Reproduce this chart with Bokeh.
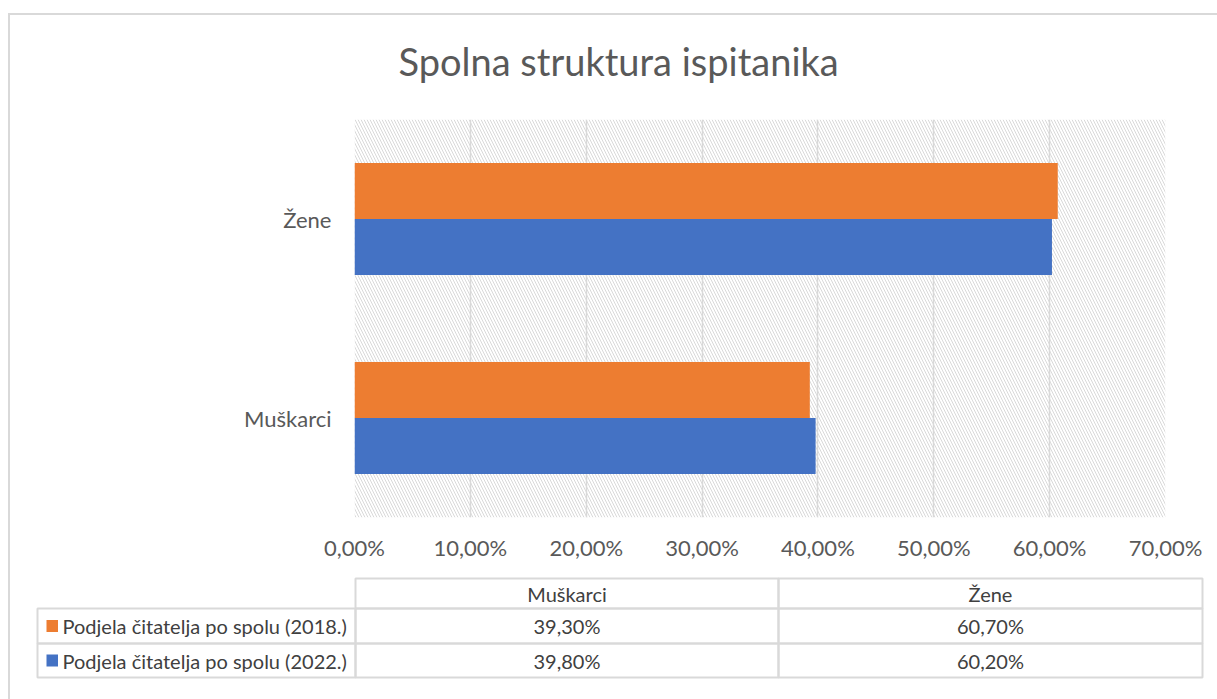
from bokeh.plotting import figure
from bokeh.layouts import column
from bokeh.models import (FactorRange, Range1d, BoxAnnotation, FixedTicker,
                          CustomJSTickFormatter, ColumnDataSource)
from bokeh.core.properties import value
from bokeh.transform import dodge
from bokeh.embed import file_html
from bokeh.resources import INLINE

# ---------------- data ----------------
categories = ["Muškarci", "Žene"]
series_names = ["Podjela čitatelja po spolu (2018.)", "Podjela čitatelja po spolu (2022.)"]
values_2018 = [0.393, 0.607]
values_2022 = [0.398, 0.602]
x_ticks = [0.0, 0.1, 0.2, 0.3, 0.4, 0.5, 0.6, 0.7]
title_text = "Spolna struktura ispitanika"

# ---------------- style ----------------
FONT = "Lato"
ORANGE = "#ED7D31"
BLUE = "#4472C4"
GRID = "#d9d9d9"
TXT = "#595959"
TXT2 = "#404040"

OX, OY = 10, 15          # content origin on the page (inside outer border)
W = 1217 - OX
Y_CHART = 100            # page y where the chart part starts
Y_TABLE = 575            # page y where the table part starts
H0 = Y_CHART - OY
HA = Y_TABLE - Y_CHART
HB = 699 - Y_TABLE
PL, PT, PW, PH = 354, 119, 811, 398   # plot area on the page

def pct_label(v):
    return f"{v * 100:.2f}".replace(".", ",") + "%"

def strip(height, y0, y1):
    f = figure(width=W, height=height, x_range=Range1d(OX, 1217), y_range=Range1d(y1, y0),
               output_backend="svg", toolbar_location=None, x_axis_type=None,
               y_axis_type=None, min_border=0)
    f.frame_align = False
    f.outline_line_color = None
    f.grid.visible = False
    f.border_fill_color = "white"
    return f

# ---------------- title ----------------
p0 = strip(H0, OY, Y_CHART)
p0.text(x=[398], y=[60], text=[title_text], text_align="left", text_baseline="middle",
        text_font=value(FONT), text_font_size="38px", text_color=TXT)

# ---------------- chart ----------------
src = ColumnDataSource(dict(cat=categories, v2018=values_2018, v2022=values_2022))

p1 = figure(width=W, height=HA, y_range=FactorRange(*categories), x_range=Range1d(0, 0.7),
            output_backend="svg", toolbar_location=None,
            min_border_left=PL - OX, min_border_right=W - (PL - OX) - PW,
            min_border_top=PT - Y_CHART, min_border_bottom=HA - (PT - Y_CHART) - PH)
p1.frame_align = False
p1.outline_line_color = None
p1.border_fill_color = "white"

# hatched plot area
p1.add_layout(BoxAnnotation(fill_alpha=0, line_alpha=0, hatch_pattern="\\",
                            hatch_color="#d9d9d9", hatch_scale=6, hatch_weight=1,
                            level="image"))

bar_h = 0.2814
p1.hbar(y=dodge("cat", bar_h / 2, range=p1.y_range), right="v2018", left=0, height=bar_h,
        source=src, fill_color=ORANGE, line_color=None)
p1.hbar(y=dodge("cat", -bar_h / 2, range=p1.y_range), right="v2022", left=0, height=bar_h,
        source=src, fill_color=BLUE, line_color=None)

p1.xaxis.ticker = FixedTicker(ticks=x_ticks)
p1.xaxis.formatter = CustomJSTickFormatter(
    code="return (tick*100).toFixed(2).replace('.', ',') + '%';")
for ax in (p1.xaxis[0], p1.yaxis[0]):
    ax.axis_line_color = None
    ax.major_tick_line_color = None
    ax.minor_tick_line_color = None
    ax.major_tick_out = 0
    ax.major_tick_in = 0
    ax.major_label_text_font = FONT
    ax.major_label_text_color = TXT
    ax.major_label_text_font_size = "22px"
p1.xaxis.major_label_standoff = 16
p1.yaxis.major_label_standoff = 23
p1.xgrid.grid_line_color = GRID
p1.xgrid.grid_line_width = 1.5
p1.ygrid.grid_line_color = None

# ---------------- data table ----------------
p2 = strip(HB, Y_TABLE, 699)

col_x = [355, 778, 1202]
leg_x = 37
row_y = [578, 608, 643, 677]

cells = dict(l=[], r=[], t=[], b=[])
def cell(l, t, r, b):
    cells["l"].append(l); cells["r"].append(r); cells["t"].append(t); cells["b"].append(b)

texts = dict(x=[], y=[], text=[], align=[])
def txt(x, y, s, align="center"):
    texts["x"].append(x); texts["y"].append(y); texts["text"].append(s); texts["align"].append(align)

for i, c in enumerate(categories):
    cell(col_x[i], row_y[0], col_x[i + 1], row_y[1])
    txt((col_x[i] + col_x[i + 1]) / 2, (row_y[0] + row_y[1]) / 2, c)

series_vals = [values_2018, values_2022]
series_cols = [ORANGE, BLUE]
sq = dict(l=[], r=[], t=[], b=[], c=[])
for r in range(2):
    t, b = row_y[r + 1], row_y[r + 2]
    cy = (t + b) / 2
    cell(leg_x, t, col_x[0], b)
    sq["l"].append(46); sq["r"].append(57.5); sq["t"].append(cy - 6); sq["b"].append(cy + 6)
    sq["c"].append(series_cols[r])
    txt(62, cy, series_names[r], "left")
    for i in range(2):
        cell(col_x[i], t, col_x[i + 1], b)
        txt((col_x[i] + col_x[i + 1]) / 2, cy, pct_label(series_vals[r][i]))

p2.quad(left="l", right="r", top="t", bottom="b", source=ColumnDataSource(cells),
        fill_alpha=0, line_color=GRID, line_width=2)
p2.quad(left="l", right="r", top="t", bottom="b", color="c", source=ColumnDataSource(sq),
        line_color=None)
p2.text(x="x", y="y", text="text", text_align="align", source=ColumnDataSource(texts),
        text_baseline="middle", text_font=value(FONT), text_font_size="20px",
        text_color=TXT2)

layout = column(p0, p1, p2, spacing=0, margin=(13, 0, 0, 8),
                styles={"border-left": f"2px solid {GRID}", "border-top": f"2px solid {GRID}"})

open("out.html", "w").write(file_html(layout, INLINE))
